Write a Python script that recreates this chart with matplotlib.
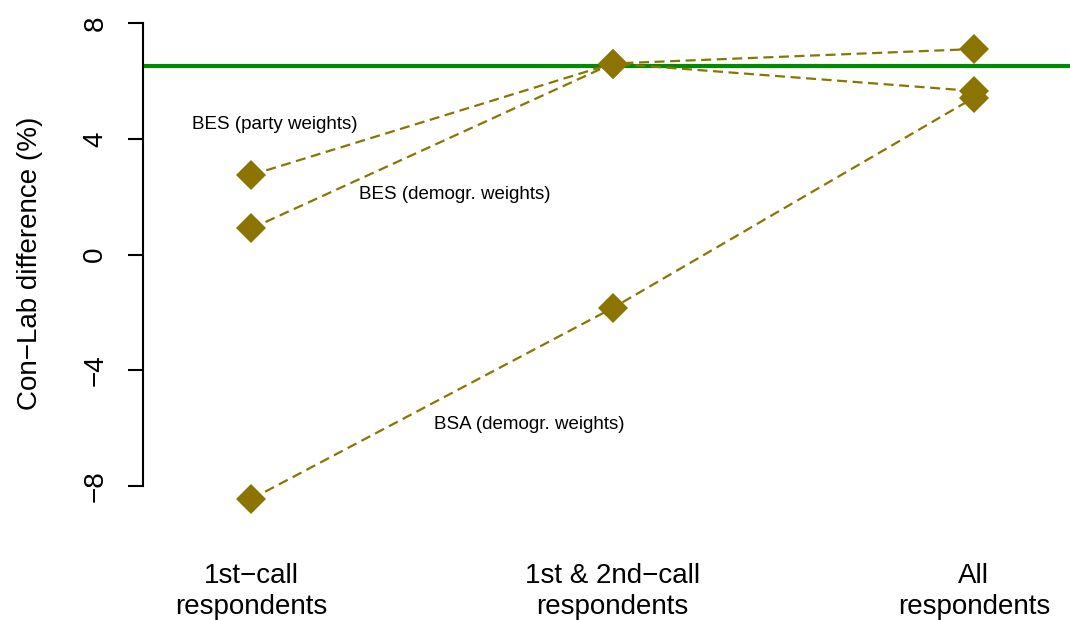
import matplotlib.pyplot as plt

# Con-Lab difference by call stage
stages = ["1st\u2212call\nrespondents", "1st & 2nd\u2212call\nrespondents", "All\nrespondents"]
bes_party = [2.75, 6.6, 7.1]
bes_demogr = [0.9, 6.6, 5.65]
bsa_demogr = [-8.45, -1.85, 5.42]
result = 6.5  # actual election result

plt.rcParams['font.family'] = ['Liberation Sans', 'DejaVu Sans']

fig = plt.figure(figsize=(10.7, 6.2), dpi=100)
ax = fig.add_axes([143/1070, 1 - 504.5/620, 927/1070, 500/620])

x = [1, 2, 3]
olive = '#8B7500'
for vals in (bes_party, bes_demogr, bsa_demogr):
    ax.plot(x, vals, color=olive, lw=1.6, ls=(0, (4.5, 2.5)), zorder=2)
    ax.plot(x, vals, ls='none', marker='D', ms=15.5, color=olive,
            mec=olive, mew=0, zorder=3, clip_on=False)

ax.axhline(result, color='#008B00', lw=3, zorder=1)

ax.text(1.066, 4.5, "BES (party weights)", ha='center', va='center', fontsize=13.5)
ax.text(1.564, 2.09, "BES (demogr. weights)", ha='center', va='center', fontsize=13.5)
ax.text(1.769, -5.89, "BSA (demogr. weights)", ha='center', va='center', fontsize=13.5)

ax.set_xlim(0.70, 3.266)
ax.set_ylim(-8.64, 8.64)
ax.set_yticks([-8, -4, 0, 4, 8])
ax.set_yticklabels(["\u22128", "\u22124", "0", "4", "8"], rotation=90, va='center')
ax.tick_params(axis='y', length=11, width=1.5, pad=14, labelsize=20)
ax.set_xticks(x)
ax.set_xticklabels(stages, fontsize=20, linespacing=1.25)
ax.tick_params(axis='x', length=0, pad=42)

for s in ('top', 'right', 'bottom'):
    ax.spines[s].set_visible(False)
ax.spines['left'].set_bounds(-8, 8)
ax.spines['left'].set_linewidth(1.5)

fig.text(30/1070, 1 - 263/620, "Con\u2212Lab difference (%)", rotation=90,
         ha='center', va='center', fontsize=20)

fig.savefig("out.png", dpi=100)
